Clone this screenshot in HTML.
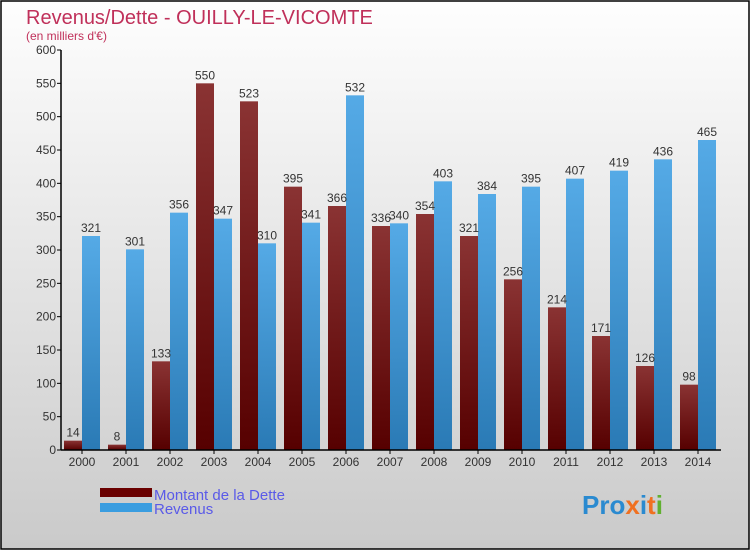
<!DOCTYPE html>
<html><head><meta charset="utf-8"><style>
body{margin:0;}
#wrap{width:750px;height:550px;position:relative;font-family:"Liberation Sans",sans-serif;}
</style></head><body>
<div id="wrap">
<svg id="chart" width="750" height="550" xmlns="http://www.w3.org/2000/svg">
<defs>
<linearGradient id="bg" x1="0" y1="0" x2="0" y2="1"><stop offset="0" stop-color="#fefefe"/><stop offset="1" stop-color="#cacaca"/></linearGradient>
<linearGradient id="gd" x1="0" y1="0" x2="0" y2="1"><stop offset="0" stop-color="#8a3333"/><stop offset="1" stop-color="#560000"/></linearGradient>
<linearGradient id="gr" x1="0" y1="0" x2="0" y2="1"><stop offset="0" stop-color="#55aae6"/><stop offset="1" stop-color="#2a7ab5"/></linearGradient>
</defs>
<rect x="1" y="1" width="748" height="548" fill="url(#bg)" stroke="#000" stroke-width="1.5"/>
<text x="26" y="24" font-size="20" fill="#c0305a">Revenus/Dette - OUILLY-LE-VICOMTE</text>
<text x="26" y="40" font-size="12" fill="#c0305a">(en milliers d'€)</text>
<g id="plot"></g>
<rect x="100" y="488" width="52" height="9" fill="#6a0000"/>
<rect x="100" y="503" width="52" height="9" fill="#3a9de0"/>
<text x="154" y="500" font-size="15" fill="#5a5ae8">Montant de la Dette</text>
<text x="154" y="514" font-size="15" fill="#5a5ae8">Revenus</text>
<text x="582" y="514" font-size="26" font-weight="bold" fill="#2a8ad0">Pro<tspan fill="#f07020">x</tspan><tspan fill="#2a8ad0">i</tspan><tspan fill="#f07020">t</tspan><tspan fill="#60b030">i</tspan></text>
</svg>
</div>
<script>
const years=["2000","2001","2002","2003","2004","2005","2006","2007","2008","2009","2010","2011","2012","2013","2014"];
const dette=[14,8,133,550,523,395,366,336,354,321,256,214,171,126,98];
const revenus=[321,301,356,347,310,341,532,340,403,384,395,407,419,436,465];
const yTicks=[0,50,100,150,200,250,300,350,400,450,500,550,600];
const NS="http://www.w3.org/2000/svg";
const g=document.getElementById('plot');
const y=v=>450-v*400/600;
const xc=i=>82+44*i;
function mk(t,a){const e=document.createElementNS(NS,t);for(const k in a)e.setAttribute(k,a[k]);g.appendChild(e);return e;}
yTicks.forEach(v=>{
 const l=mk('line',{x1:57,x2:61,y1:y(v),y2:y(v),stroke:'#000'});
 
 
 const t=mk('text',{x:56,y:y(v)+4,'text-anchor':'end','font-size':12,fill:'#333'});
 t.textContent=v;
 
 
});
years.forEach((yr,i)=>{
 const c=xc(i);
 const b1=mk('rect',{x:c-18,y:y(dette[i]),width:18,height:450-y(dette[i]),fill:'url(#gd)'});
 
 
 const b2=mk('rect',{x:c,y:y(revenus[i]),width:18,height:450-y(revenus[i]),fill:'url(#gr)'});
 
 
 const t1=mk('text',{x:c-9,y:y(dette[i])-4,'text-anchor':'middle','font-size':12,fill:'#333'});
 t1.textContent=dette[i];
 
 
 const t2=mk('text',{x:c+9,y:y(revenus[i])-4,'text-anchor':'middle','font-size':12,fill:'#333'});
 t2.textContent=revenus[i];
 
 
 const tk=mk('line',{x1:c,x2:c,y1:450,y2:454,stroke:'#000'});
 
 
 const xl=mk('text',{x:c,y:466,'text-anchor':'middle','font-size':12,fill:'#333'});
 xl.textContent=yr;
 
 
});
const ya=mk('line',{x1:61,x2:61,y1:50,y2:450,stroke:'#000','stroke-width':1.5});


const xa=mk('line',{x1:61,x2:721,y1:450,y2:450,stroke:'#000','stroke-width':1.5});


</script>
</body></html>
